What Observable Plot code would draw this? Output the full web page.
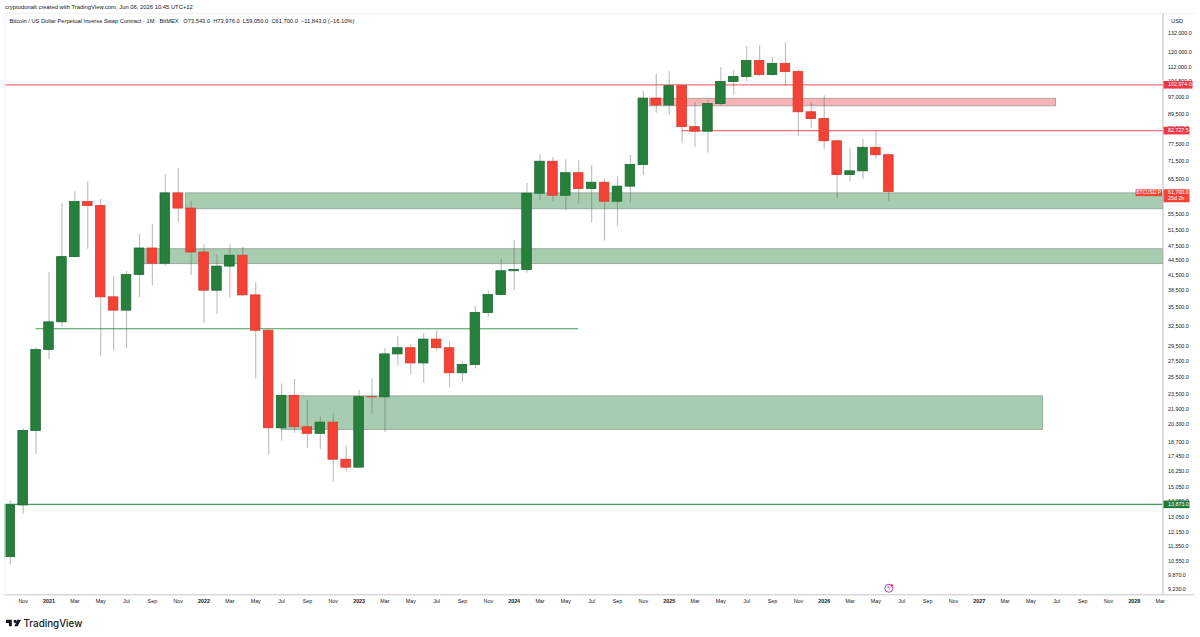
<!DOCTYPE html>
<html>
<head>
<meta charset="utf-8">
<script src="https://cdn.jsdelivr.net/npm/d3@7"></script>
<script src="https://cdn.jsdelivr.net/npm/@observablehq/plot@0.6"></script>
<style>
html,body{margin:0;padding:0;background:#fff;width:1200px;height:637px;overflow:hidden;font-family:"Liberation Sans",sans-serif;color:#131722}
#head{height:13px;line-height:14px;font-size:5.85px;padding-left:5px;box-sizing:border-box;white-space:pre}
#chart{height:595px}
#chart svg{display:block}
#foot{height:29px;display:flex;align-items:center;padding-left:5.5px;padding-top:1px;box-sizing:border-box;gap:3px}
#foot span{font-family:Inter,"Liberation Sans",sans-serif;font-size:9.8px;font-weight:500;letter-spacing:0}
</style>
</head>
<body>
<div id="head">cryptodonalt created with TradingView.com, Jun 06, 2026 10:45 UTC+12</div>
<div id="chart"></div>
<div id="foot"><svg width="15" height="12" viewBox="0 0 36 28"><path fill="#131722" d="M14 6H0v8h7v8h7V6Zm14 16h-8l7.5-16H36l-8 16Zm-6-16a4 4 0 1 0 0 8 4 4 0 0 0 0-8Z"/></svg><span>TradingView</span></div>
<script>
// Monthly candles, Oct 2020 → Jun 2026
const opens = [10780,13800,19700,29000,33100,45200,58800,57700,37300,35000,41500,47100,43800,61300,57000,46200,38500,43200,45500,37650,31800,19950,23300,20050,19430,20500,17170,16530,23150,23130,28400,29250,27200,30480,29250,25950,27000,34600,37700,42250,42500,61200,71300,60600,67500,62600,64500,58900,63300,70200,96400,93300,102300,84100,82300,93900,104400,106900,115400,107900,113800,109400,90300,87400,78600,66900,68100,76200,73543];
const closes = [13800,19700,29000,33100,45200,58800,57700,37300,35000,41500,47100,43800,61300,57000,46200,38500,43200,45500,37650,31800,19950,23300,20050,19430,20500,17170,16530,23150,23130,28400,29250,27200,30480,29250,25950,27000,34600,37700,42250,42500,61200,71300,60600,67500,62600,64500,58900,63300,70200,96400,93300,102300,84100,82300,93900,104400,106900,115400,107900,113800,109400,90300,87400,78600,66900,68100,76200,73543,61700];
const highs = [14100,19900,29300,41980,58300,61750,64770,59600,41200,42250,50420,52800,67050,69000,59050,47950,45760,48080,47390,39980,31930,24680,25190,22780,21060,21440,18350,23930,25280,29180,30980,29780,31340,31790,30160,27410,35760,38410,44690,48930,64250,73700,72650,71940,71700,69920,65390,66340,73550,99570,108160,109560,102600,94620,95520,111690,110250,123640,124230,117480,125840,110610,94470,97680,79010,75830,79270,82640,73976];
const lows = [10387,13210,17600,27670,32350,45000,46940,28150,28850,29200,37210,39470,43220,53240,41460,32910,34360,37150,37500,25280,17570,18750,19480,18110,18030,15420,16230,16500,21390,19570,26890,25800,24750,28850,24210,24830,26470,33870,37600,38480,41860,59240,58950,56390,58200,53240,48780,52390,58600,66660,89900,88920,77880,76410,74250,93200,97960,104740,107100,107300,102130,80310,83680,75470,59730,64770,65580,72150,59050];

const axisPrices = [132000,120000,112000,104500,97000,89500,83500,77500,71500,65500,55500,51500,47500,44500,41500,38500,35500,32500,29500,27500,25500,23500,21900,20300,18700,17450,16250,15050,14050,13050,12150,11350,10550,9870,9230];
const axisMonths = ["Nov","2021","Mar","May","Jul","Sep","Nov","2022","Mar","May","Jul","Sep","Nov","2023","Mar","May","Jul","Sep","Nov","2024","Mar","May","Jul","Sep","Nov","2025","Mar","May","Jul","Sep","Nov","2026","Mar","May","Jul","Sep","Nov","2027","Mar","May","Jul","Sep","Nov","2028","Mar"];

// Drawings: [start month, end month, top price, bottom price]
const greenZones = [[13.6,null,61300,56800],[10.4,null,46940,43700],[21,79.93,23240,19800]];
const pinkZones = [[49.5,80.94,96300,92900]];
const redLevels = [[-0.4056,null,102974],[52,null,82727.5]];
const greenLevels = [[2,44,32090],[-0.4056,null,13873]];

const xMin = -0.4056, xMax = 89.22, pxMonth = 12.92;
const yMin = 9005, yMax = 144750;
const GREEN = "#26803c", RED = "#f44336", TXT = "#131722";
const FS = 5.35;

const idx = closes.map((_, i) => i);
const up = i => closes[i] >= opens[i];
const px = n => n / pxMonth;        // px → x-scale months, for the price-axis gutter
const f1 = d3.format(",.1f");
const tickIdx = axisMonths.map((_, k) => 1 + 2 * k);
const isYear = s => /^\d/.test(s);

const zoneMark = (zones, fill) => Plot.rect(zones, {
  x1: d => d[0], x2: d => d[1] ?? xMax, y1: d => d[2], y2: d => d[3],
  fill, stroke: "#7f8f84", strokeWidth: 0.8, strokeOpacity: 0.8
});
const levelMark = (levels, stroke, w, op) => Plot.ruleY(levels, {
  x1: d => d[0], x2: d => d[1] ?? xMax, y: d => d[2], stroke, strokeWidth: w, strokeOpacity: op
});
const tag = (price, color, right, label) => [
  Plot.ruleY([price], {x1: xMax + px(1), x2: xMax + px(right), stroke: color, strokeWidth: 7.6}),
  Plot.text([price], {x: xMax, y: d => d, dx: 5, text: () => label, fill: "#fff", textAnchor: "start", fontSize: FS})
];

const chart = Plot.plot({
  width: 1200, height: 595,
  marginLeft: 4.5, marginRight: 37.5, marginTop: 0, marginBottom: 13.7,
  style: {fontFamily: '"Liberation Sans",sans-serif', background: "#fff", color: TXT},
  x: {type: "linear", domain: [xMin, xMax], axis: null},
  y: {type: "log", domain: [yMin, yMax], axis: null},
  marks: [
    zoneMark(greenZones, "#a7ccb0"),
    zoneMark(pinkZones, "#f9b2b6"),
    levelMark(redLevels, "#f2404e", 1.3, 0.75),
    levelMark(greenLevels, "#2c9148", 1.1, 0.9),
    Plot.ruleX(idx, {x: i => i, y1: i => lows[i], y2: i => highs[i], stroke: "#5f5f5f", strokeWidth: 1.1, strokeOpacity: 0.42}),
    Plot.rect(idx, {
      x1: i => i - 0.37, x2: i => i + 0.37, y1: i => opens[i], y2: i => closes[i],
      fill: i => up(i) ? GREEN : RED, stroke: i => up(i) ? "#1d6a32" : "#d83a2f", strokeWidth: 0.8
    }),
    // frame
    Plot.ruleY([yMax], {x1: xMin, x2: xMax + px(32), stroke: "#f3f3f3", strokeWidth: 1}),
    Plot.ruleX([xMin], {stroke: "#f3f3f3", strokeWidth: 1}),
    Plot.ruleX([xMax], {stroke: "#bcbcbc", strokeWidth: 1}),
    Plot.ruleY([yMin], {x1: xMin, x2: xMax + px(32), stroke: "#c6c6c6", strokeWidth: 1}),
    // axes
    Plot.axisY({anchor: "right", ticks: axisPrices, tickFormat: f1, tickSize: 0, tickPadding: 5, label: null, fontSize: FS, fill: TXT}),
    Plot.axisX({anchor: "bottom", ticks: tickIdx.filter(t => !isYear(axisMonths[(t - 1) / 2])), tickFormat: t => axisMonths[(t - 1) / 2], tickSize: 0, tickPadding: 4.2, label: null, fontSize: FS, fill: TXT}),
    Plot.axisX({anchor: "bottom", ticks: tickIdx.filter(t => isYear(axisMonths[(t - 1) / 2])), tickFormat: t => axisMonths[(t - 1) / 2], tickSize: 0, tickPadding: 4.2, label: null, fontSize: FS, fontWeight: "bold", fill: TXT}),
    // legend and axis unit
    Plot.text(["Bitcoin / US Dollar Perpetual Inverse Swap Contract · 1M · BitMEX   O73,543.0  H73,976.0  L59,050.0  C61,700.0  −11,843.0 (−16.10%)"], {
      frameAnchor: "top-left", dx: 4.5, dy: 7.5, lineAnchor: "middle", textAnchor: "start", fontSize: 5.73, fill: TXT
    }),
    Plot.text(["USD"], {x: xMax, frameAnchor: "top", dx: 8, dy: 8, lineAnchor: "middle", textAnchor: "start", fontSize: 5.8, fill: TXT}),
    // price tags
    ...tag(102974, "#f23645", 30, f1(102974)),
    ...tag(82727.5, "#f23645", 27, f1(82727.5)),
    ...tag(13873, "#1f7a38", 27, f1(13873)),
    Plot.ruleY([61700], {x1: xMax + px(1), x2: xMax + px(27), dy: 3.8, stroke: "#f44336", strokeWidth: 13}),
    Plot.ruleY([61700], {x1: xMax - px(27), x2: xMax - px(0.5), dy: 0.8, stroke: "#f44336", strokeWidth: 6.7}),
    Plot.text(["BTCUSD.P"], {x: xMax, y: () => 61700, dx: -2, dy: 0.8, textAnchor: "end", fill: "#fff", fontSize: 4.9}),
    Plot.text([f1(61700)], {x: xMax, y: () => 61700, dx: 5, textAnchor: "start", fill: "#fff", fontSize: FS}),
    Plot.text(["25d 2h"], {x: xMax, y: () => 61700, dx: 5, dy: 6.6, textAnchor: "start", fill: "#fff", fontSize: FS}),
    // marker on the latest bar
    Plot.dot([68], {x: d => d, y: () => 9290, r: 4, stroke: "#a02ec0", strokeWidth: 0.9, fill: "#fff"}),
    Plot.text(["ϟ"], {x: () => 68, y: () => 9290, fontFamily: "DejaVu Sans", fontSize: 6, fill: "#a02ec0"}),
    Plot.dot([68], {x: d => d, y: () => 9290, dx: 3, dy: -2.8, r: 1.3, fill: "#f23645"})
  ]
});
document.getElementById("chart").appendChild(chart);
</script>
</body>
</html>
